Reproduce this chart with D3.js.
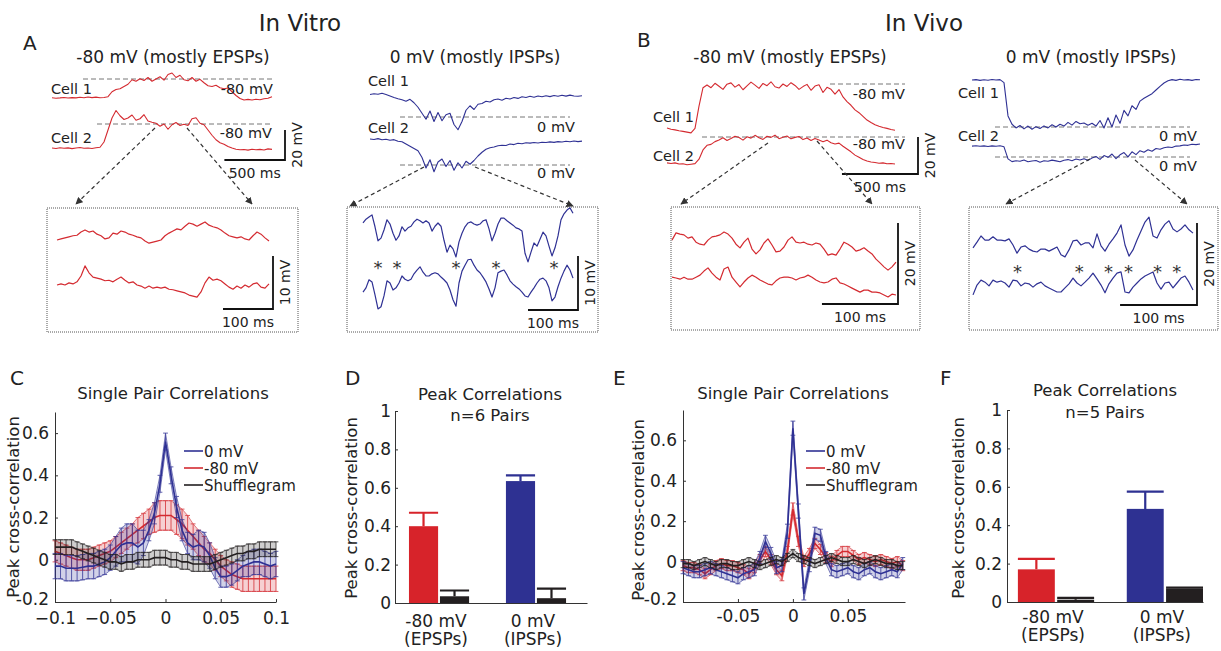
<!DOCTYPE html>
<html>
<head>
<meta charset="utf-8">
<script src="https://cdn.jsdelivr.net/npm/d3@7"></script>
<style>
body { margin: 0; background: #fff; }
svg text { font-family: "DejaVu Sans", sans-serif; fill: #222; }
</style>
</head>
<body>
<div id="main"></div>
<script>
// ---- membrane potential traces (mV) ----
const vitroEpspCell1 = [-92.5,-92.8,-92.6,-92.3,-92.7,-92.4,-92.6,-92.2,-92.5,-92.0,
  -92.4,-92.1,-92.5,-92.3,-91.8,-88.5,-87.0,-86.5,-85.0,-83.5,
  -80.5,-81.5,-79.8,-81.0,-79.0,-81.5,-80.0,-78.5,-80.8,-77.0,
  -76.0,-79.0,-77.5,-80.5,-81.2,-79.0,-81.5,-80.2,-82.5,-84.5,
  -85.0,-84.2,-85.8,-86.5,-86.0,-88.5,-91.0,-93.0,-94.0,-93.6,
  -94.0,-93.5,-93.8,-93.2,-92.8,-91.8];
const vitroEpspCell2 = [-96.0,-96.3,-95.8,-96.2,-95.9,-96.4,-96.0,-95.7,-96.2,-96.0,
  -96.3,-95.8,-95.5,-92.0,-84.0,-76.0,-71.0,-74.5,-77.0,-76.0,
  -74.0,-77.5,-76.5,-73.8,-78.0,-78.8,-79.5,-81.5,-80.0,-83.5,
  -80.5,-79.0,-81.0,-80.2,-81.0,-76.5,-75.8,-79.5,-80.5,-84.0,
  -87.5,-90.5,-92.5,-93.5,-95.0,-96.0,-96.8,-97.2,-97.0,-97.4,
  -96.8,-97.2,-96.9,-97.3,-96.6,-96.9];
const vitroIpspCell1 = [15.0,15.5,15.2,15.8,15.0,14.0,13.0,12.2,11.5,10.5,
  11.8,9.5,6.5,2.5,-1.5,4.0,-3.0,3.0,-2.5,1.5,
  2.5,-5.0,-8.5,-3.0,4.5,7.5,5.0,8.5,9.0,10.5,
  10.0,11.5,12.0,11.2,12.5,12.0,13.0,12.4,13.5,13.0,
  13.8,13.2,14.0,13.5,14.2,13.6,14.3,13.8,14.5,13.9,
  14.6,14.0,13.8,14.2];
const vitroIpspCell2 = [17.3,17.0,17.6,16.8,17.2,16.5,16.9,15.8,15.5,14.0,
  12.5,11.0,9.5,5.0,-2.0,3.5,-4.5,2.0,4.0,-1.0,
  3.0,-3.5,1.5,-2.0,2.5,0.5,3.0,6.0,8.5,10.5,
  11.5,12.0,12.8,13.2,13.0,14.0,13.6,14.5,14.2,14.8,
  14.6,15.0,14.7,15.2,15.0,15.4,15.1,15.6,15.3,15.8,
  15.5,16.0,15.6,15.9];
const vivoEpspCell1 = [-103.8,-104.5,-104.8,-105.3,-105.6,-106.0,-106.4,-104.0,-92.0,-82.0,
  -80.5,-82.0,-79.6,-81.2,-82.9,-80.1,-79.4,-81.7,-80.3,-83.1,
  -81.0,-79.0,-80.6,-82.4,-79.7,-80.9,-78.8,-81.5,-82.2,-80.0,
  -81.3,-79.3,-80.8,-82.9,-81.4,-80.2,-83.4,-81.1,-80.4,-84.6,
  -81.8,-82.9,-85.5,-83.0,-87.0,-89.5,-91.5,-94.0,-95.5,-97.5,
  -99.5,-100.8,-102.0,-102.8,-103.5,-104.0,-104.6,-105.0];
const vivoEpspCell2 = [-94.0,-94.3,-94.0,-94.6,-94.5,-95.0,-94.7,-94.4,-92.0,-87.0,
  -84.5,-84.0,-82.5,-81.6,-80.4,-81.9,-80.8,-79.6,-80.3,-81.7,
  -79.9,-80.6,-79.1,-80.4,-81.3,-79.6,-80.2,-79.0,-80.9,-80.1,
  -79.5,-81.0,-80.2,-79.7,-81.4,-80.5,-81.9,-80.8,-81.6,-82.6,
  -81.7,-83.1,-83.8,-83.3,-85.0,-86.5,-88.0,-89.8,-91.0,-92.2,
  -93.0,-93.5,-93.8,-94.2,-94.0,-94.5,-94.3,-94.6];
const vivoIpspCell1 = [25.4,25.6,25.2,25.5,25.3,25.7,25.4,25.6,24.0,6.0,
  1.5,-0.5,0.8,-1.0,0.5,-1.2,0.2,-0.8,0.6,-0.5,
  1.2,0.0,1.5,0.5,2.5,1.0,3.0,1.8,2.2,1.0,
  2.0,0.5,3.5,-0.5,5.0,0.0,6.5,2.0,9.0,6.0,
  11.5,9.5,14.0,15.5,16.8,18.0,20.0,22.0,23.8,25.0,
  25.6,25.2,25.8,25.4,25.6,25.2,25.7,25.5];
const vivoIpspCell2 = [5.9,6.1,5.8,6.0,5.7,6.0,5.8,6.1,5.5,-1.0,
  -2.5,-2.0,-2.3,-1.6,-2.6,-2.2,-1.9,-2.8,-2.0,-2.3,
  -1.7,-2.1,-2.6,-1.8,-1.4,-2.0,-1.1,-1.6,-0.9,-1.8,
  -0.6,0.3,-1.3,0.8,-0.2,1.6,-0.9,1.2,2.4,0.1,
  2.8,1.3,3.4,2.6,3.9,3.1,4.6,4.2,5.0,5.4,
  5.1,5.9,6.0,6.5,6.3,6.9,6.7,7.0];

// ---- expanded windows (mV relative to local baseline) ----
const vitroEpspZoom1 = [0.0,0.2,0.4,0.6,0.8,0.9,1.5,1.9,1.5,1.7,
  1.1,0.8,0.2,0.4,1.3,1.1,1.7,1.5,1.1,0.9,
  0.6,0.4,-0.2,-0.6,-0.4,-0.2,0.0,0.8,1.3,1.7,
  2.1,1.9,2.6,3.2,3.0,2.6,3.0,3.4,2.8,2.5,
  2.3,1.9,1.3,0.8,0.6,0.4,0.6,0.2,0.0,0.8,
  1.5,1.1,0.4,-0.2];
const vitroEpspZoom2 = [0.0,0.2,0.0,0.4,0.2,0.6,1.7,3.6,2.3,1.5,
  1.3,1.1,0.8,0.9,0.6,1.1,1.5,0.9,0.4,0.6,
  0.0,-0.2,-0.6,-0.2,-0.6,-0.4,-0.6,-0.4,-0.8,-0.9,
  -1.1,-1.3,-1.5,-1.9,-2.1,-2.3,-1.3,0.4,1.5,0.9,
  1.1,0.8,0.2,-0.4,-0.8,-0.2,-0.6,0.0,-0.4,0.2,
  0.4,-0.4,-0.6,0.2];
const vitroIpspZoom1 = [1.3,2.0,2.4,2.8,0.6,-2.0,-1.5,0,1.9,1.1,
  -0.6,-1.9,-1.1,0.6,-0.2,0.4,0.7,1.5,2.0,1.7,
  1.3,1.7,1.3,-0.2,0.7,1.3,0.7,-1.9,-4.1,-2.8,
  -3.5,-5.0,-2.2,-0.6,0.6,1.3,1.5,1.1,0.9,1.1,
  1.7,1.9,0.2,-2.0,-0.6,1.1,2.2,2.2,1.7,1.3,
  0.9,0.4,0.2,-0.2,-4.3,-5.9,-4.1,-2.4,-3.0,-1.7,
  -0.4,-1.1,-3.0,-4.8,-3.3,-1.1,1.9,3.0,3.7,4.1,
  3.1];
const vitroIpspZoom2 = [-1.7,-0.9,0.6,0.2,-2.2,-4.8,-4.4,-2.4,0.4,0,
  -1.3,-0.9,0,1.3,0.7,0.4,0.7,1.7,2.4,3.0,
  2.0,1.3,1.3,1.7,1.9,1.7,1.1,0.6,0,-1.3,
  -3.1,-4.3,0,2.2,3.3,4.3,4.4,3.3,2.4,1.9,
  1.1,0.2,-1.1,-2.6,-0.9,1.9,2.2,2.4,1.5,0.4,
  -0.2,-0.7,-1.1,-1.7,-2.4,-2.6,-1.7,-0.9,0,0.7,
  0.9,0.4,-0.9,-3.3,-2.6,-0.7,0.9,2.2,3.3,2.4,
  0.9];
const vivoEpspZoom1 = [1.2,3.0,2.7,2.5,1.7,2.0,0.7,0.2,0,1.2,
  2.0,2.2,2.5,3.2,2.7,1.7,0.2,-0.7,0.7,1.7,
  -1.0,-2.2,-1.2,0.5,1.5,0,-1.7,-1.5,-0.5,1.2,
  2.0,0.7,0.5,0.7,0.2,0,0.5,0.2,-1.0,-2.5,
  -2.2,-2.5,-1.0,0.7,0.2,-0.5,-1.5,-1.2,-0.7,-1.5,
  -2.2,-3.5,-4.4,-5.4,-6.2,-5.4,-4.2];
const vivoEpspZoom2 = [0.7,0.5,0.2,0.7,0.2,0.2,0.7,1.2,2.2,3.0,
  1.7,0.7,0,2.7,3.2,0.7,-0.5,-1.7,-0.5,0.5,
  1.2,0.7,0,-0.5,-1.0,-1.2,-0.2,0.5,0.7,0.7,
  0.5,0,0.5,0.7,1.2,0.7,0,-0.5,-0.7,-0.5,
  0.2,0.5,-0.7,-1.0,-1.5,-2.0,-2.5,-3.0,-2.5,-2.5,
  -3.0,-3.0,-3.2,-3.7,-4.2,-3.5,-3.7];
const vivoIpspZoom1 = [-0.7,0.7,2.2,1.2,1.2,2.0,1.2,1.2,1.0,1.5,
  0,-2.0,-0.5,-0.2,-1.0,-1.5,-1.7,-1.0,-1.0,-1.5,
  -1.0,-0.5,-2.4,-2.9,-1.2,1.0,1.2,0,0.5,0.5,
  -0.7,2.7,-0.2,-1.5,0.2,1.5,2.9,4.9,0,-2.7,
  -1.2,1.2,3.4,5.6,6.8,2.2,1.7,3.7,5.1,5.9,
  3.9,3.2,3.9,4.9,3.7,2.9];
const vivoIpspZoom2 = [-2.9,-0.5,0.7,0.2,-0.7,0.7,0.2,0.5,0,-1.0,
  0.7,0.5,-0.7,0,-0.2,-1.0,-0.2,0.2,-0.7,-1.2,
  -1.7,-2.2,-2.2,-1.2,-0.2,1.2,0,-0.7,0.2,1.2,
  2.4,1.0,-0.5,-2.4,-0.2,1.2,2.4,2.7,-2.2,-2.4,
  -1.0,0,1.0,1.7,2.2,2.7,0,-1.5,0,0.2,
  -1.2,0,1.2,1.7,0.2,-1.7];
// times (ms into the window) of the shared IPSPs marked with *
const vitroIpspEvents = [30, 68, 186, 266, 382];
const vivoIpspEvents = [58, 138, 176, 202, 240, 265];

// ---- cross-correlation vs lag (s) ----
const lags = [-0.1,-0.095,-0.09,-0.085,-0.08,-0.075,-0.07,-0.065,-0.06,-0.055,
  -0.05,-0.045,-0.04,-0.035,-0.03,-0.025,-0.02,-0.015,-0.01,-0.005,
  0,0.005,0.01,0.015,0.02,0.025,0.03,0.035,0.04,0.045,
  0.05,0.055,0.06,0.065,0.07,0.075,0.08,0.085,0.09,0.095,0.1];
const vitroCorr0 = [-0.03,-0.03,-0.04,-0.04,-0.04,-0.035,-0.03,-0.03,-0.02,-0.01,
  0.01,0.04,0.07,0.08,0.08,0.06,0.08,0.14,0.22,0.36,
  0.56,0.40,0.25,0.14,0.08,0.06,0.07,0.06,0.02,-0.04,
  -0.08,-0.08,-0.07,-0.05,-0.03,-0.02,-0.01,-0.01,-0.02,-0.03,-0.02];
const vitroCorr0Err = [0.06,0.06,0.06,0.06,0.06,0.06,0.06,0.06,0.06,0.06,
  0.06,0.07,0.08,0.09,0.09,0.08,0.06,0.05,0.05,0.04,
  0.04,0.04,0.05,0.05,0.05,0.06,0.07,0.07,0.06,0.05,
  0.05,0.05,0.05,0.05,0.05,0.06,0.06,0.06,0.06,0.06,0.06];
const vitroCorr80 = [0.04,0.03,0.02,0.01,0.0,0.0,0.0,0.01,0.02,0.03,
  0.04,0.06,0.08,0.10,0.12,0.14,0.16,0.18,0.20,0.21,
  0.21,0.21,0.19,0.17,0.14,0.11,0.08,0.05,0.03,0.0,
  -0.03,-0.05,-0.07,-0.08,-0.09,-0.09,-0.09,-0.09,-0.09,-0.09,-0.09];
const vitroCorr80Err = [0.05,0.05,0.05,0.05,0.05,0.05,0.05,0.05,0.05,0.05,
  0.05,0.05,0.05,0.05,0.05,0.06,0.06,0.06,0.07,0.07,
  0.07,0.07,0.07,0.07,0.07,0.06,0.06,0.06,0.05,0.05,
  0.05,0.05,0.06,0.06,0.06,0.06,0.06,0.06,0.06,0.06,0.06];
const vitroShuffle = [0.06,0.06,0.06,0.06,0.05,0.04,0.03,0.02,0.01,0.0,
  -0.01,-0.01,-0.02,-0.01,-0.01,0.0,0.0,0.0,0.01,0.01,
  0.01,0.0,0.0,-0.01,-0.01,-0.02,-0.02,-0.02,-0.02,-0.01,
  0.0,0.01,0.02,0.03,0.03,0.04,0.04,0.05,0.05,0.05,0.05];
const vitroShuffleErr = [0.035,0.035,0.035,0.035,0.035,0.035,0.035,0.035,0.035,0.035,
  0.035,0.035,0.035,0.035,0.035,0.035,0.035,0.035,0.035,0.035,
  0.035,0.035,0.035,0.035,0.035,0.035,0.035,0.035,0.035,0.035,
  0.035,0.035,0.035,0.035,0.035,0.035,0.035,0.035,0.035,0.035,0.035];
const vivoCorr0 = [-0.03,-0.04,-0.05,-0.05,-0.04,-0.03,-0.04,-0.05,-0.06,-0.07,
  -0.08,-0.06,-0.05,-0.04,0.02,0.10,0.04,-0.03,-0.02,0.15,
  0.66,0.25,-0.16,-0.02,0.14,0.13,0.02,-0.04,-0.05,-0.04,
  -0.03,-0.05,-0.06,-0.04,-0.03,-0.05,-0.06,-0.05,-0.04,-0.05,-0.01];
const vivoCorr0Err = [0.03,0.03,0.03,0.03,0.03,0.03,0.03,0.03,0.03,0.03,
  0.03,0.03,0.03,0.03,0.03,0.03,0.03,0.03,0.03,0.035,
  0.035,0.035,0.03,0.03,0.03,0.03,0.03,0.03,0.03,0.03,
  0.03,0.03,0.03,0.03,0.03,0.03,0.03,0.03,0.03,0.03,0.03];
const vivoCorr80 = [-0.02,-0.03,-0.03,-0.04,-0.06,-0.04,-0.02,-0.01,-0.02,-0.02,
  -0.03,-0.04,-0.06,-0.03,0.01,0.05,0.01,-0.04,-0.07,0.05,
  0.26,0.10,0.0,0.04,0.09,0.06,0.02,0.0,0.03,0.05,
  0.05,0.03,0.01,0.02,0.01,0.0,0.01,0.0,-0.01,0.0,-0.02];
const vivoCorr80Err = [0.025,0.025,0.025,0.025,0.025,0.025,0.025,0.025,0.025,0.025,
  0.025,0.025,0.025,0.025,0.025,0.025,0.025,0.025,0.025,0.025,
  0.03,0.025,0.025,0.025,0.025,0.025,0.025,0.025,0.025,0.025,
  0.025,0.025,0.025,0.025,0.025,0.025,0.025,0.025,0.025,0.025,0.025];
const vivoShuffle = [-0.01,-0.01,-0.02,-0.01,0.0,-0.01,-0.02,-0.01,-0.01,-0.02,
  -0.02,-0.01,0.0,-0.01,-0.02,-0.01,0.0,0.01,0.0,0.02,
  0.04,0.02,0.01,0.0,-0.01,0.0,0.01,0.02,0.01,0.0,
  0.0,0.01,0.0,-0.01,0.0,0.01,0.0,-0.01,-0.01,-0.02,-0.02];
const vivoShuffleErr = [0.02,0.02,0.02,0.02,0.02,0.02,0.02,0.02,0.02,0.02,
  0.02,0.02,0.02,0.02,0.02,0.02,0.02,0.02,0.02,0.02,
  0.02,0.02,0.02,0.02,0.02,0.02,0.02,0.02,0.02,0.02,
  0.02,0.02,0.02,0.02,0.02,0.02,0.02,0.02,0.02,0.02,0.02];

// ---- peak correlations (bars) ----
const conditions = ["-80 mV", "0 mV"];
const conditionSub = ["(EPSPs)", "(IPSPs)"];
const vitroPeak = [0.40, 0.635];
const vitroPeakErr = [0.07, 0.03];
const vitroShufflePeak = [0.035, 0.025];
const vitroShufflePeakErr = [0.03, 0.05];
const vivoPeak = [0.17, 0.485];
const vivoPeakErr = [0.055, 0.09];
const vivoShufflePeak = [0.012, 0.07];
const vivoShufflePeakErr = [0.01, 0.005];

const RED = "#d42a30", BLUE = "#2f3194", BAR_RED = "#d7232a", BAR_BLUE = "#2e3192", BLACK = "#231f20";

const svg = d3.select("#main").append("svg").attr("width", 1221).attr("height", 651);
svg.append("defs").append("marker")
    .attr("id", "arrow").attr("viewBox", "0 0 10 10")
    .attr("refX", 9).attr("refY", 5)
    .attr("markerWidth", 6).attr("markerHeight", 6)
    .attr("orient", "auto")
  .append("path").attr("d", "M0,0L10,5L0,10z").attr("fill", "#333");

function txt(x, y, s, size, anchor, rotate) {
  const t = svg.append("text").attr("font-size", size).attr("text-anchor", anchor || "start").text(s);
  if (rotate) t.attr("transform", `translate(${x},${y}) rotate(${rotate})`);
  else t.attr("x", x).attr("y", y);
  return t;
}

function drawTrace(vals, x, dt, y, color, w) {
  svg.append("path").datum(vals)
      .attr("d", d3.line().x((d, i) => x(i * dt)).y(d => y(d)))
      .attr("fill", "none")
      .attr("stroke", color)
      .attr("stroke-width", w)
      .attr("stroke-linejoin", "round");
}

function levelLine(x1, x2, yy) {
  svg.append("line").attr("x1", x1).attr("x2", x2).attr("y1", yy).attr("y2", yy)
      .attr("stroke", "#666").attr("stroke-width", 0.9).attr("stroke-dasharray", "5,3");
}

function scaleBar(cx, cy, hLen, vLen, hText, vText) {
  svg.append("path").attr("d", `M${cx - hLen},${cy}H${cx}V${cy - vLen}`)
      .attr("fill", "none").attr("stroke", "#111").attr("stroke-width", 1.8);
  txt(cx - hLen / 2, cy + 18, hText, 14, "middle");
  txt(cx + 17, cy - vLen / 2, vText, 14, "middle", -90);
}

function arrow(x1, y1, x2, y2) {
  svg.append("line").attr("x1", x1).attr("y1", y1).attr("x2", x2).attr("y2", y2)
      .attr("stroke", "#333").attr("stroke-width", 1.2).attr("stroke-dasharray", "4,3")
      .attr("marker-end", "url(#arrow)");
}

// two simultaneously recorded cells
function cellPair(o) {
  const x = d3.scaleLinear().domain([0, (o.c1.length - 1) * o.dt]).range([o.x0, o.x1]);
  const y1 = d3.scaleLinear().domain([o.hold, o.hold + 20]).range([o.dash[0], o.dash[0] - o.px20]);
  const y2 = d3.scaleLinear().domain([o.hold, o.hold + 20]).range([o.dash[1], o.dash[1] - o.px20]);
  levelLine(o.l1[0], o.l1[1], y1(o.hold));
  levelLine(o.l2[0], o.l2[1], y2(o.hold));
  drawTrace(o.c1, x, o.dt, y1, o.color, 1.1);
  drawTrace(o.c2, x, o.dt, y2, o.color, 1.1);
  if (o.bar) scaleBar(o.bar[0], o.bar[1], x(500) - x(0), y1(o.hold) - y1(o.hold + 20), "500 ms", "20 mV");
}

// expanded window in a dotted box
function inset(o) {
  svg.append("rect")
      .attr("x", o.box[0]).attr("y", o.box[1])
      .attr("width", o.box[2] - o.box[0]).attr("height", o.box[3] - o.box[1])
      .attr("fill", "none").attr("stroke", "#555").attr("stroke-width", 1).attr("stroke-dasharray", "1,1");
  const x = d3.scaleLinear().domain([0, (o.top.length - 1) * o.dt]).range([o.x0, o.x1]);
  const yTop = d3.scaleLinear().domain([0, 10]).range([o.base[0], o.base[0] - 10 * o.pxMv]);
  const yBot = d3.scaleLinear().domain([0, 10]).range([o.base[1], o.base[1] - 10 * o.pxMv]);
  drawTrace(o.top, x, o.dt, yTop, o.color, 1.2);
  drawTrace(o.bottom, x, o.dt, yBot, o.color, 1.2);
  (o.stars || []).forEach(t => txt(x(t), o.starY + 10, "*", 18, "middle").style("fill", "#333"));
  scaleBar(o.bar[0], o.bar[1], x(100) - x(0), yTop(0) - yTop(o.barMv), "100 ms", o.barMv + " mV");
}

const yFmt = d => d === 0 ? "0" : d === 1 ? "1" : d3.format(".1f")(d).replace("\u2212", "-");

function corrPanel(o) {
  const x = d3.scaleLinear().domain(o.xDomain).range([o.left, o.right]);
  const y = d3.scaleLinear().domain(o.yDomain).range([o.bottom, o.top]);
  const ax = svg.append("g").attr("transform", `translate(0,${o.bottom})`)
      .call(d3.axisBottom(x).tickValues(o.xTicks).tickFormat(o.xFormat).tickSize(-3).tickSizeOuter(0).tickPadding(o.xPad));
  const ay = svg.append("g").attr("transform", `translate(${o.left},0)`)
      .call(d3.axisLeft(y).tickValues(o.yTicks).tickFormat(yFmt).tickSize(-3).tickSizeOuter(0).tickPadding(6));
  [ax, ay].forEach(a => a.attr("font-size", 17).attr("color", "#333"));
  // lowest y label sits a little higher so it clears the x labels
  ay.selectAll(".tick text").filter(d => d === o.yTicks[0]).attr("dy", "0.12em");

  o.series.forEach(s => {
    const lo = (d, i) => y(s.mean[i] - s.err[i]);
    const hi = (d, i) => y(s.mean[i] + s.err[i]);
    svg.append("path").datum(lags)
        .attr("d", d3.area().x(d => x(d)).y0(lo).y1(hi))
        .attr("fill", s.color).attr("fill-opacity", 0.22);
    const g = svg.append("g").attr("stroke", s.color).attr("opacity", 0.85);
    g.selectAll(null).data(lags).join("line")
        .attr("x1", d => x(d)).attr("x2", d => x(d))
        .attr("y1", lo).attr("y2", hi)
        .attr("stroke-width", 0.9);
    [lo, hi].forEach(edge => {
      g.selectAll(null).data(lags).join("line")
          .attr("x1", d => x(d) - 2.4).attr("x2", d => x(d) + 2.4)
          .attr("y1", edge).attr("y2", edge)
          .attr("stroke-width", 0.9);
      g.append("path").datum(lags)
          .attr("d", d3.line().x(d => x(d)).y(edge))
          .attr("fill", "none").attr("stroke-width", 0.7);
    });
    svg.append("path").datum(s.mean)
        .attr("d", d3.line().x((d, i) => x(lags[i])).y(d => y(d)))
        .attr("fill", "none").attr("stroke", s.color).attr("stroke-width", 1.6);
  });

  o.legend.forEach((s, i) => {
    const ly = o.legendY + i * 17;
    svg.append("line").attr("x1", o.legendX).attr("x2", o.legendX + 19).attr("y1", ly).attr("y2", ly)
        .attr("stroke", s.color).attr("stroke-width", 1.6);
    txt(o.legendX + 20, ly + 5.5, s.name, 15);
  });
}

function barPanel(o) {
  const y = d3.scaleLinear().domain([0, 1]).range([o.bottom, o.top]);
  const x = d3.scaleBand().domain(conditions).range([o.left, o.right])
      .paddingInner(o.pi).paddingOuter(o.po).align(o.align);
  const sub = d3.scaleBand().domain(["cond", "shuffle"]).range([0, x.bandwidth()]).paddingInner(0.06);
  const colors = [BAR_RED, BAR_BLUE];

  conditions.forEach((c, i) => {
    const bars = [
      {key: "cond", v: o.peak[i], e: o.err[i], color: colors[i]},
      {key: "shuffle", v: o.shuffle[i], e: o.shuffleErr[i], color: BLACK}
    ];
    bars.forEach(b => {
      const bx = x(c) + sub(b.key), bw = sub.bandwidth();
      svg.append("rect").attr("x", bx).attr("y", y(b.v)).attr("width", bw).attr("height", y(0) - y(b.v))
          .attr("fill", b.color);
      svg.append("path")
          .attr("d", `M${bx + bw / 2},${y(b.v)}V${y(b.v + b.e)}M${bx},${y(b.v + b.e)}H${bx + bw}`)
          .attr("fill", "none").attr("stroke", b.color).attr("stroke-width", 2.2);
    });
    const cx = x(c) + x.bandwidth() / 2 - 3;
    txt(cx, o.labelY, c, 17, "middle");
    txt(cx, o.labelY + 18, conditionSub[i], 17, "middle");
  });

  const ax = svg.append("g").attr("transform", `translate(0,${o.bottom})`)
      .call(d3.axisBottom(x).tickSize(0).tickSizeOuter(0).tickFormat(""));
  const ay = svg.append("g").attr("transform", `translate(${o.left},0)`)
      .call(d3.axisLeft(y).tickValues([0, 0.2, 0.4, 0.6, 0.8, 1]).tickFormat(yFmt)
        .tickSize(-3).tickSizeOuter(0).tickPadding(o.tickPad));
  [ax, ay].forEach(a => a.attr("font-size", 17).attr("color", "#333"));
}

// ---------- headings ----------
txt(300, 31, "In Vitro", 23, "middle");
txt(924, 31, "In Vivo", 23, "middle");
txt(23, 50, "A", 20);
txt(637, 47, "B", 20);
txt(173, 63, "-80 mV (mostly EPSPs)", 17, "middle");
txt(475, 63, "0 mV (mostly IPSPs)", 17, "middle");
txt(790, 63, "-80 mV (mostly EPSPs)", 17, "middle");
txt(1091, 63, "0 mV (mostly IPSPs)", 17, "middle");

// ---------- A: in vitro traces ----------
cellPair({c1: vitroEpspCell1, c2: vitroEpspCell2, dt: 33, x0: 52, x1: 272, hold: -80,
  dash: [79, 124], px20: 30, l1: [83, 273], l2: [97, 270], color: RED, bar: [285, 160]});
txt(51, 94, "Cell 1", 14.5); txt(273, 94, "-80 mV", 14.5, "end");
txt(51, 143, "Cell 2", 14.5); txt(272, 138, "-80 mV", 14.5, "end");
arrow(155, 128, 76, 204); arrow(187, 128, 252, 204);
inset({box: [47, 208, 298, 332], top: vitroEpspZoom1, bottom: vitroEpspZoom2, dt: 8, x0: 57, x1: 269,
  base: [240, 285], pxMv: 5.3, color: RED, bar: [273, 309], barMv: 10});

cellPair({c1: vitroIpspCell1, c2: vitroIpspCell2, dt: 33, x0: 370, x1: 582, hold: 0,
  dash: [117, 165], px20: 30, l1: [400, 570], l2: [400, 570], color: BLUE});
txt(368, 86, "Cell 1", 14.5); txt(368, 133, "Cell 2", 14.5);
txt(575, 132, "0 mV", 14.5, "end"); txt(575, 178, "0 mV", 14.5, "end");
arrow(424, 167, 350, 206); arrow(475, 167, 573, 206);
inset({box: [347, 207, 598, 332], top: vitroIpspZoom1, bottom: vitroIpspZoom2, dt: 6, x0: 363, x1: 573,
  base: [230, 283], pxMv: 5.4, color: BLUE, bar: [578, 310], barMv: 10,
  stars: vitroIpspEvents, starY: 264});

// ---------- B: in vivo traces ----------
cellPair({c1: vivoEpspCell1, c2: vivoEpspCell2, dt: 26.3, x0: 667, x1: 895, hold: -80,
  dash: [84, 137], px20: 37, l1: [830, 905], l2: [702, 905], color: RED, bar: [918, 174]});
txt(653, 122, "Cell 1", 14.5); txt(653, 161, "Cell 2", 14.5);
txt(905, 99, "-80 mV", 14.5, "end"); txt(905, 149, "-80 mV", 14.5, "end");
arrow(768, 143, 681, 204); arrow(817, 141, 872, 204);
inset({box: [671, 207, 920, 330], top: vivoEpspZoom1, bottom: vivoEpspZoom2, dt: 5.26, x0: 672, x1: 896,
  base: [245, 280], pxMv: 4.05, color: RED, bar: [898, 304], barMv: 20});

cellPair({c1: vivoIpspCell1, c2: vivoIpspCell2, dt: 26.3, x0: 972, x1: 1200, hold: 0,
  dash: [127, 157], px20: 37, l1: [995, 1190], l2: [995, 1190], color: BLUE});
txt(958, 98, "Cell 1", 14.5); txt(958, 141, "Cell 2", 14.5);
txt(1197, 141, "0 mV", 14.5, "end"); txt(1197, 171, "0 mV", 14.5, "end");
arrow(1090, 159, 1006, 204); arrow(1135, 160, 1187, 204);
inset({box: [969, 207, 1218, 330], top: vivoIpspZoom1, bottom: vivoIpspZoom2, dt: 5.2, x0: 973, x1: 1193,
  base: [245, 283], pxMv: 4.1, color: BLUE, bar: [1197, 305], barMv: 20,
  stars: vivoIpspEvents, starY: 268});

// ---------- C / E: single pair correlations ----------
txt(10, 385, "C", 20);
txt(173, 399, "Single Pair Correlations", 16.5, "middle");
txt(19, 507, "Peak cross-correlation", 16.5, "middle", -90);
corrPanel({xDomain: [-0.1, 0.1], yDomain: [-0.2, 0.7], left: 55, right: 276, top: 412, bottom: 602,
  xTicks: [-0.1, -0.05, 0, 0.05, 0.1], yTicks: [-0.2, 0, 0.2, 0.4, 0.6], xPad: 10,
  xFormat: d => d === 0 ? "0" : d3.format("")(d),
  series: [
    {color: RED, mean: vitroCorr80, err: vitroCorr80Err},
    {color: BLUE, mean: vitroCorr0, err: vitroCorr0Err},
    {color: BLACK, mean: vitroShuffle, err: vitroShuffleErr}
  ],
  legend: [{name: "0 mV", color: BLUE}, {name: "-80 mV", color: RED}, {name: "Shufflegram", color: BLACK}],
  legendX: 184, legendY: 451});

txt(613, 385, "E", 20);
txt(793, 399, "Single Pair Correlations", 16.5, "middle");
txt(644, 510, "Peak cross-correlation", 16.5, "middle", -90);
corrPanel({xDomain: [-0.1, 0.102], yDomain: [-0.2, 0.75], left: 683, right: 905, top: 410, bottom: 602,
  xTicks: [-0.05, 0, 0.05], yTicks: [-0.2, 0, 0.2, 0.4, 0.6], xPad: 8,
  xFormat: d => d === 0 ? "0" : String(d),
  series: [
    {color: RED, mean: vivoCorr80, err: vivoCorr80Err},
    {color: BLUE, mean: vivoCorr0, err: vivoCorr0Err},
    {color: BLACK, mean: vivoShuffle, err: vivoShuffleErr}
  ],
  legend: [{name: "0 mV", color: BLUE}, {name: "-80 mV", color: RED}, {name: "Shufflegram", color: BLACK}],
  legendX: 806, legendY: 451});

// ---------- D / F: peak correlations ----------
txt(345, 385, "D", 20);
txt(490, 400, "Peak Correlations", 16.5, "middle");
txt(490, 421, "n=6 Pairs", 16.5, "middle");
txt(357, 508, "Peak cross-correlation", 16.5, "middle", -90);
barPanel({left: 395, right: 587, top: 411, bottom: 603, pi: 0.38, po: 0.18, align: 0.4, tickPad: 4,
  peak: vitroPeak, err: vitroPeakErr, shuffle: vitroShufflePeak, shuffleErr: vitroShufflePeakErr,
  labelY: 627});

txt(940, 385, "F", 20);
txt(1105, 396, "Peak Correlations", 16.5, "middle");
txt(1105, 418, "n=5 Pairs", 16.5, "middle");
txt(964, 508, "Peak cross-correlation", 16.5, "middle", -90);
barPanel({left: 1007, right: 1203, top: 410, bottom: 602, pi: 0.3, po: 0.05, align: 1, tickPad: 5,
  peak: vivoPeak, err: vivoPeakErr, shuffle: vivoShufflePeak, shuffleErr: vivoShufflePeakErr,
  labelY: 623});
</script>
</body>
</html>
